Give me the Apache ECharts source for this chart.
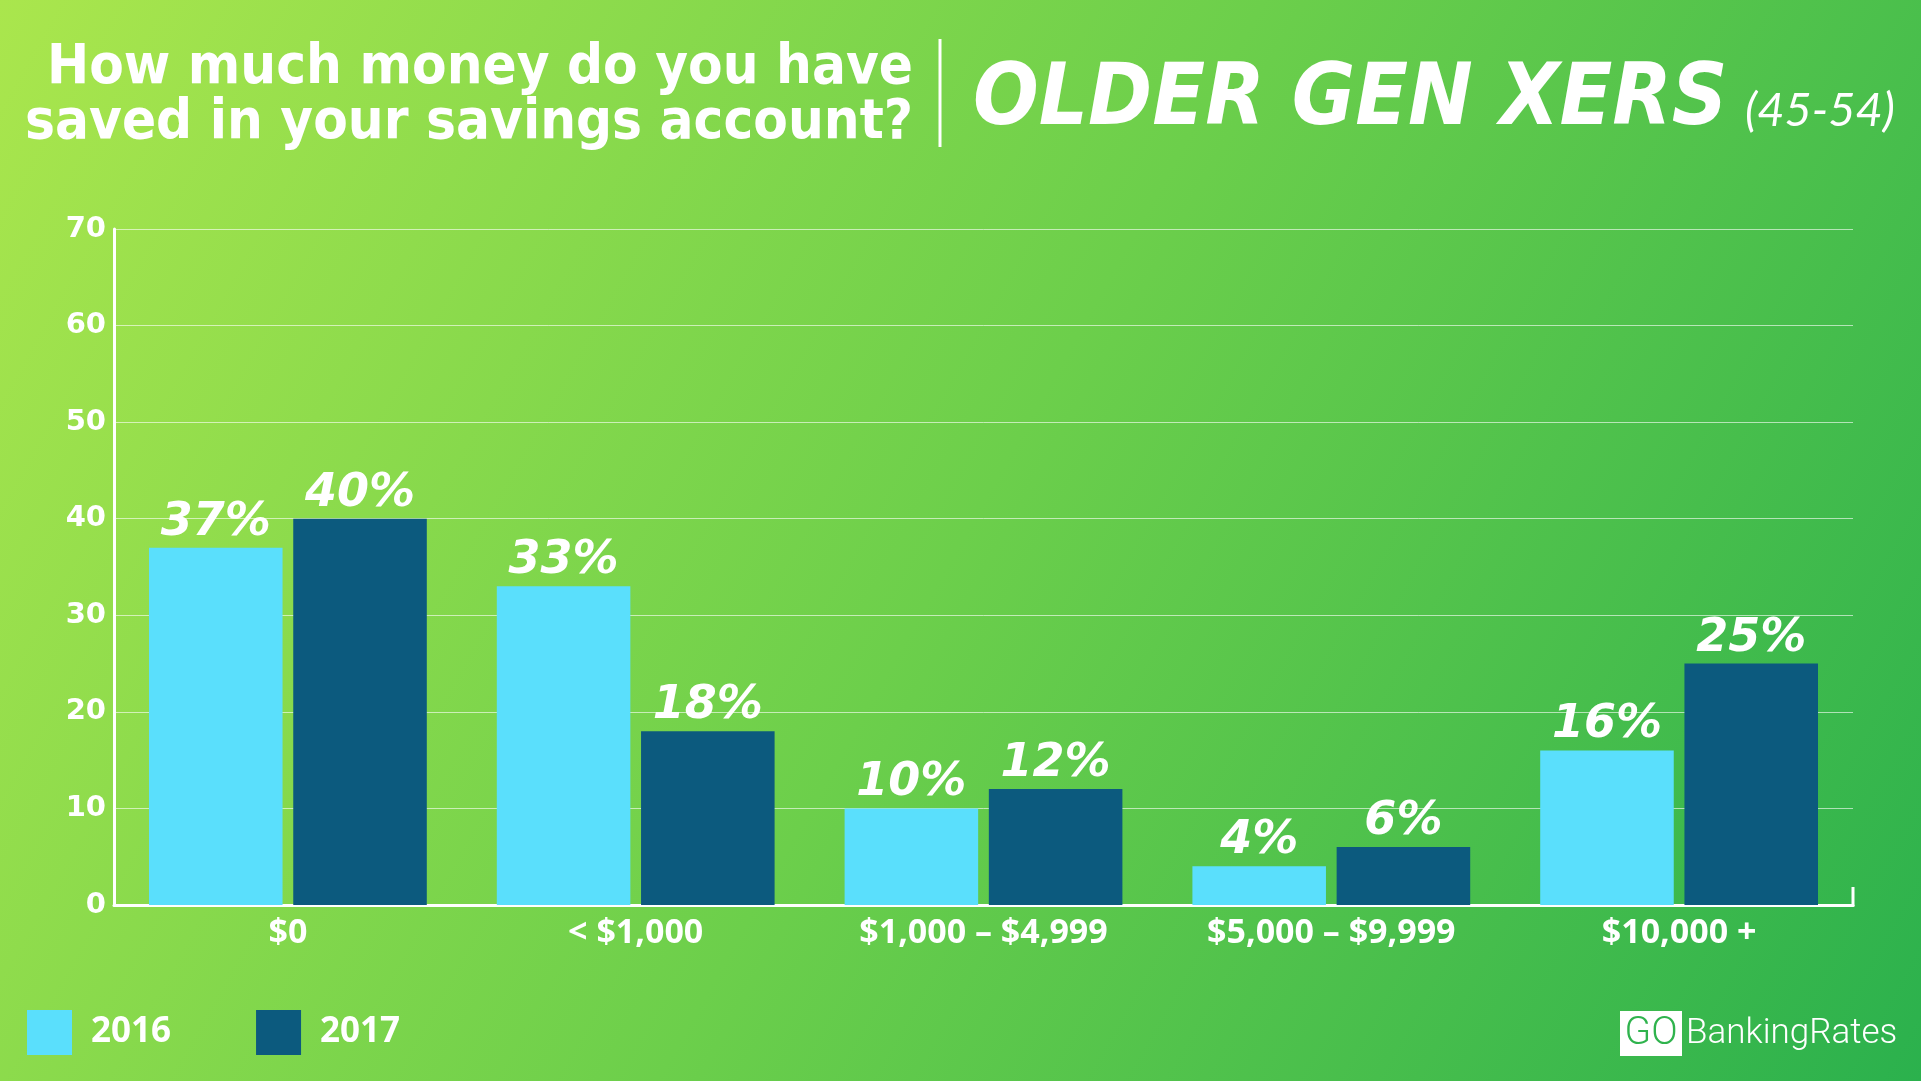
<!DOCTYPE html>
<html>
<head>
<meta charset="utf-8">
<script src="https://cdn.jsdelivr.net/npm/echarts@6/dist/echarts.min.js"></script>
<style>
html,body{margin:0;padding:0;background:#6dcf4a;}
#main{width:1921px;height:1081px;}
</style>
</head>
<body>
<div id="main"></div>
<script>
const categories = ['$0', '< $1,000', '$1,000 – $4,999', '$5,000 – $9,999', '$10,000 +'];
const values2016 = [37, 33, 10, 4, 16];
const values2017 = [40, 18, 12, 6, 25];
const seriesNames = ['2016', '2017'];
const yTicks = [0, 10, 20, 30, 40, 50, 60, 70];
const titleLines = ['How much money do you have', 'saved in your savings account?'];

const W = 1921, H = 1081;
const grid = {left: 114, right: 68, top: 229, bottom: 176};
const chart = echarts.init(document.getElementById('main'), null, {renderer: 'canvas'});

const labelStyle = {
  show: true, position: 'top', distance: 2, color: '#fff',
  fontFamily: 'DejaVu Sans', fontWeight: 'bold', fontStyle: 'italic', fontSize: 46,
  formatter: p => p.value + '%'
};

const option = {
  backgroundColor: new echarts.graphic.LinearGradient(0, 0, 1, 1, [
    {offset: 0, color: '#aae64d'},
    {offset: 0.5, color: '#6ccf4b'},
    {offset: 1, color: '#2bb14d'}
  ]),
  animation: false,
  title: [
    {
      text: 'OLDER GEN XERS',
      left: 968, top: 52,
      textStyle: {color: '#fff', fontFamily: 'DejaVu Sans Condensed', fontWeight: 'bold', fontStyle: 'italic', fontSize: 86, lineHeight: 90}
    },
    {
      text: '(45-54)',
      left: 1740, top: 82,
      textStyle: {color: '#fff', fontFamily: 'Lato', fontWeight: 'normal', fontStyle: 'italic', fontSize: 47}
    }
  ],
  legend: {
    left: 27, top: 1010, padding: 0, itemWidth: 45, itemHeight: 45, itemGap: 85,
    icon: 'rect',
    data: seriesNames,
    textStyle: {color: '#fff', fontFamily: 'Open Sans', fontWeight: 'bold', fontSize: 35, padding: [4, 0, 0, 14]}
  },
  grid: {left: grid.left, right: grid.right, top: grid.top, bottom: grid.bottom, containLabel: false},
  xAxis: {
    type: 'category', data: categories,
    axisLine: {lineStyle: {color: '#fff', width: 3}},
    axisTick: {show: false},
    axisLabel: {color: '#fff', fontFamily: 'Open Sans', fontWeight: 'bold', fontSize: 34, margin: 11}
  },
  yAxis: {
    type: 'value', min: 0, max: 70, interval: 10,
    axisLine: {show: true, lineStyle: {color: '#fff', width: 3}},
    axisTick: {show: false},
    axisLabel: {color: '#fff', fontFamily: 'DejaVu Sans', fontWeight: 'bold', fontSize: 29, margin: 8,
      formatter: v => yTicks.includes(v) ? String(v) : ''},
    splitLine: {lineStyle: {color: 'rgba(255,255,255,0.6)', width: 1}}
  },
  series: [
    {name: seriesNames[0], type: 'bar', data: values2016, barWidth: '38.4%', barGap: '8%',
      itemStyle: {color: '#5adffc'}, label: labelStyle},
    {name: seriesNames[1], type: 'bar', data: values2017, barWidth: '38.4%',
      itemStyle: {color: '#0c5a7e'}, label: labelStyle}
  ],
  graphic: [
    {type: 'text', x: 913, y: 68, style: {text: titleLines[0], fill: '#fff', font: 'bold 56px "DejaVu Sans Condensed"', textAlign: 'right', textVerticalAlign: 'middle'}},
    {type: 'text', x: 913, y: 123, style: {text: titleLines[1], fill: '#fff', font: 'bold 56px "DejaVu Sans Condensed"', textAlign: 'right', textVerticalAlign: 'middle'}},
    {type: 'line', shape: {x1: 940, y1: 39, x2: 940, y2: 147}, style: {stroke: '#fff', lineWidth: 3}},
    {type: 'line', shape: {x1: W - grid.right, y1: H - grid.bottom + 1.5, x2: W - grid.right, y2: H - grid.bottom - 18}, style: {stroke: '#fff', lineWidth: 3}},
    {type: 'rect', shape: {x: 1620, y: 1011, width: 62, height: 45}, style: {fill: '#fff'}},
    {type: 'text', x: 1651, y: 1034, style: {text: 'GO', fill: '#2fb34d', font: '300 39px Roboto', textAlign: 'center', textVerticalAlign: 'middle'}},
    {type: 'text', x: 1686, y: 1034, style: {text: 'BankingRates', fill: '#fff', font: '300 35px Roboto', textAlign: 'left', textVerticalAlign: 'middle'}}
  ]
};
chart.setOption(option);
</script>
</body>
</html>
